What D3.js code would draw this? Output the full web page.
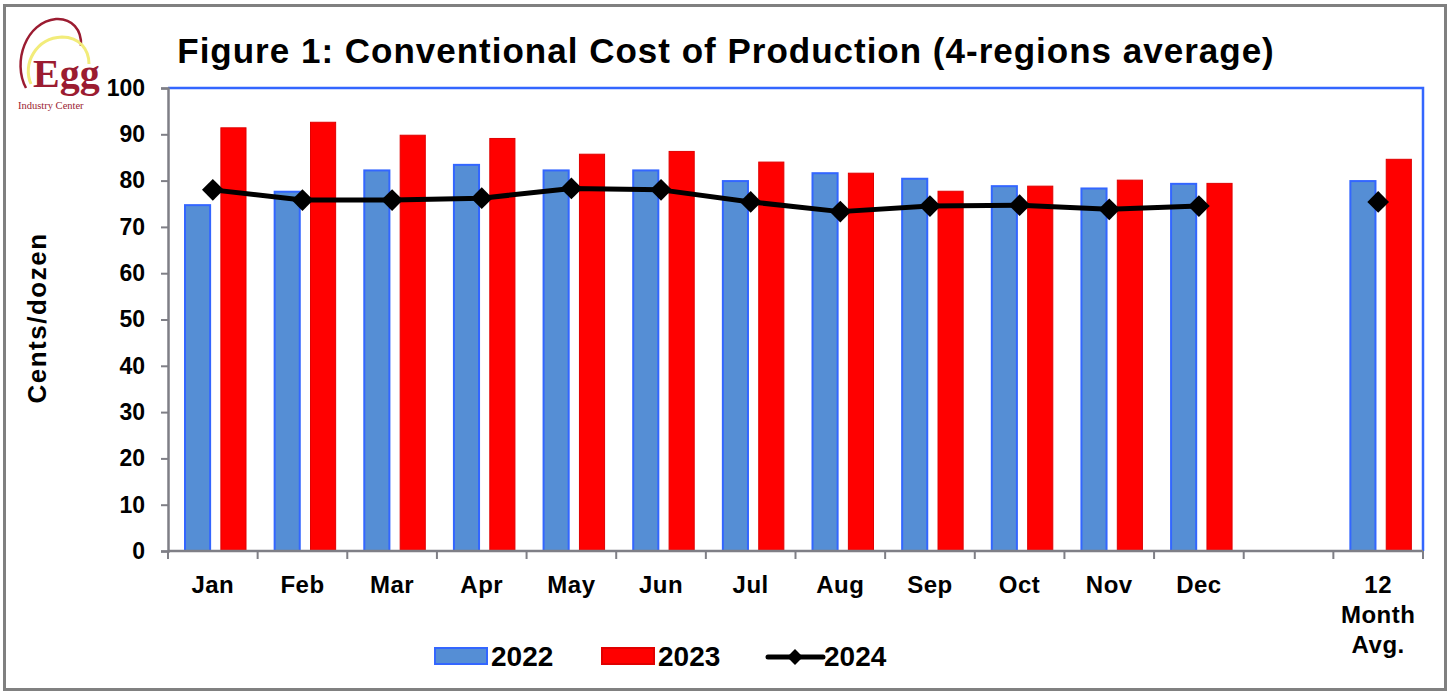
<!DOCTYPE html>
<html>
<head>
<meta charset="utf-8">
<script src="https://cdn.jsdelivr.net/npm/d3@7"></script>
<style>
  body { margin: 0; background: #fff; }
  svg { display: block; font-family: 'Liberation Sans', Arial, sans-serif; }
  .tick-label { font-weight: bold; fill: #000; }
</style>
</head>
<body>
<svg id="chart" width="1449" height="693"></svg>
<script>
// categories: 12 months, one empty slot, then the 12 month average
const categories = ['Jan', 'Feb', 'Mar', 'Apr', 'May', 'Jun', 'Jul', 'Aug', 'Sep', 'Oct', 'Nov', 'Dec', '', '12 Month Avg.'];
const values2022 = [74.7, 77.6, 82.2, 83.4, 82.2, 82.2, 79.9, 81.6, 80.4, 78.8, 78.3, 79.3, null, 79.9];
const values2023 = [91.4, 92.6, 89.8, 89.1, 85.7, 86.3, 84.0, 81.6, 77.7, 78.8, 80.1, 79.4, null, 84.6];
const values2024 = [78.0, 75.8, 75.8, 76.2, 78.3, 78.0, 75.4, 73.3, 74.5, 74.7, 73.8, 74.5, null, 75.4];
const yTicks = [0, 10, 20, 30, 40, 50, 60, 70, 80, 90, 100];
const barSeries = ['2022', '2023'];

const svg = d3.select('#chart');

const margin = { top: 88, right: 26, bottom: 142, left: 168 };
const width = 1449;
const height = 693;
const innerWidth = width - margin.left - margin.right;
const innerHeight = height - margin.top - margin.bottom;

// outer frame
svg.append('rect')
  .attr('x', 4.5).attr('y', 5.5)
  .attr('width', 1441).attr('height', 684)
  .attr('fill', '#fff')
  .attr('stroke', '#808080')
  .attr('stroke-width', 3);

// logo
const logo = svg.append('g').attr('class', 'logo');
logo.append('path')
  .attr('d', 'M26,88 C12,62 26,22 56,19 C72,18 82,30 81,46')
  .attr('fill', 'none').attr('stroke', '#9b1c31').attr('stroke-width', 2.5);
logo.append('path')
  .attr('d', 'M31,84 C22,64 36,38 62,37 C80,37 89,50 89,64')
  .attr('fill', 'none').attr('stroke', '#f2ec7a').attr('stroke-width', 3);
logo.append('text')
  .attr('x', 33).attr('y', 87)
  .attr('font-family', "'Liberation Serif', 'DejaVu Serif', serif")
  .attr('font-size', 40)
  .attr('font-weight', 'bold')
  .attr('fill', '#9b1c31')
  .text('Egg');
logo.append('text')
  .attr('x', 18).attr('y', 109)
  .attr('font-family', "'Liberation Serif', 'DejaVu Serif', serif")
  .attr('font-size', 10.5)
  .attr('fill', '#9b1c31')
  .text('Industry Center');

// title
svg.append('text')
  .attr('x', 726).attr('y', 63)
  .attr('text-anchor', 'middle')
  .attr('font-size', 35)
  .attr('letter-spacing', 1)
  .attr('font-weight', 'bold')
  .text('Figure 1: Conventional Cost of Production (4-regions average)');

const xScale = d3.scaleBand().domain(d3.range(categories.length)).range([0, innerWidth]).padding(0);
const xSeries = d3.scaleBand().domain(barSeries).range([17, 78]).paddingInner(0.3);
const yScale = d3.scaleLinear().domain([0, 100]).range([innerHeight, 0]);

const grp = svg.append('g')
  .attr('transform', 'translate(' + margin.left + ',' + margin.top + ')');

// plot border (top and right in blue)
grp.append('path')
  .attr('d', 'M0,0 H' + innerWidth + ' V' + innerHeight)
  .attr('fill', 'none')
  .attr('stroke', '#3366ff')
  .attr('stroke-width', 2.5);

// bars
const barData = [];
categories.forEach((c, i) => {
  if (values2022[i] != null) barData.push({ i: i, s: '2022', v: values2022[i] });
  if (values2023[i] != null) barData.push({ i: i, s: '2023', v: values2023[i] });
});

grp.selectAll('.bar')
  .data(barData)
  .enter()
  .append('rect')
  .attr('class', 'bar')
  .attr('x', (d) => xScale(d.i) + xSeries(d.s))
  .attr('y', (d) => yScale(d.v))
  .attr('width', xSeries.bandwidth())
  .attr('height', (d) => innerHeight - yScale(d.v))
  .attr('fill', (d) => d.s === '2022' ? '#558ed5' : '#ff0000')
  .attr('stroke', (d) => d.s === '2022' ? '#3366ff' : '#e00000')
  .attr('stroke-width', (d) => d.s === '2022' ? 2 : 1);

// y axis
const yAxis = grp.append('g')
  .attr('class', 'y axis')
  .call(d3.axisLeft(yScale).tickValues(yTicks).tickSize(7).tickPadding(16).tickFormat(d3.format('d')));
yAxis.select('.domain').attr('stroke', '#7f7f86').attr('stroke-width', 2.5);
yAxis.selectAll('.tick line').attr('stroke', '#7f7f86').attr('stroke-width', 2);
yAxis.selectAll('.tick text')
  .attr('class', 'tick-label')
  .attr('font-size', 23)
  .attr('font-family', "'Liberation Sans', Arial, sans-serif");

// x axis, ticks on band edges
const xAxis = grp.append('g')
  .attr('transform', 'translate(0,' + innerHeight + ')');
xAxis.append('line')
  .attr('x1', 0).attr('x2', innerWidth)
  .attr('stroke', '#7f7f86').attr('stroke-width', 2.5);
xAxis.selectAll('.xtick')
  .data(d3.range(categories.length + 1))
  .enter()
  .append('line')
  .attr('class', 'xtick')
  .attr('x1', (d) => d * xScale.step()).attr('x2', (d) => d * xScale.step())
  .attr('y1', 0).attr('y2', 8)
  .attr('stroke', '#7f7f86').attr('stroke-width', 2);

const xLabels = xAxis.selectAll('.xlabel')
  .data(categories)
  .enter()
  .append('text')
  .attr('class', 'tick-label')
  .attr('text-anchor', 'middle')
  .attr('font-size', 24)
  .attr('letter-spacing', 0.5)
  .attr('x', (d, i) => xScale(i) + xScale.bandwidth() / 2)
  .attr('y', 42);
xLabels.each(function (d) {
  const lines = d === '12 Month Avg.' ? ['12', 'Month', 'Avg.'] : [d];
  d3.select(this).selectAll('tspan')
    .data(lines)
    .enter()
    .append('tspan')
    .attr('x', d3.select(this).attr('x'))
    .attr('dy', (l, j) => j === 0 ? 0 : 30)
    .text((l) => l);
});

// y axis title
svg.append('text')
  .attr('transform', 'translate(46,318) rotate(-90)')
  .attr('text-anchor', 'middle')
  .attr('font-size', 26)
  .attr('letter-spacing', 1.5)
  .attr('font-weight', 'bold')
  .text('Cents/dozen');

// 2024 line with diamond markers
const line = d3.line()
  .defined((d) => d != null)
  .x((d, i) => xScale(i) + xScale.bandwidth() / 2)
  .y((d) => yScale(d));

grp.append('path')
  .datum(values2024.slice(0, 12))
  .attr('fill', 'none')
  .attr('stroke', '#000')
  .attr('stroke-width', 5)
  .attr('stroke-linejoin', 'round')
  .attr('d', line);

const diamond = d3.symbol().type(d3.symbolDiamond2).size(300);
grp.selectAll('.marker')
  .data(values2024.map((v, i) => ({ v: v, i: i })).filter((d) => d.v != null))
  .enter()
  .append('path')
  .attr('class', 'marker')
  .attr('transform', (d) => 'translate(' + (xScale(d.i) + xScale.bandwidth() / 2) + ',' + yScale(d.v) + ')')
  .attr('d', diamond)
  .attr('fill', '#000');

// legend
const legend = svg.append('g').attr('class', 'legend');
const legendItems = [
  { key: '2022', x: 435, type: 'bar', fill: '#558ed5', stroke: '#3366ff' },
  { key: '2023', x: 602, type: 'bar', fill: '#ff0000', stroke: '#e00000' },
  { key: '2024', x: 768, type: 'line' },
];
legendItems.forEach((it) => {
  if (it.type === 'bar') {
    legend.append('rect')
      .attr('x', it.x).attr('y', 648)
      .attr('width', 52).attr('height', 16)
      .attr('fill', it.fill).attr('stroke', it.stroke).attr('stroke-width', 2);
  } else {
    legend.append('line')
      .attr('x1', it.x).attr('x2', it.x + 55)
      .attr('y1', 657).attr('y2', 657)
      .attr('stroke', '#000').attr('stroke-width', 5).attr('stroke-linecap', 'round');
    legend.append('path')
      .attr('transform', 'translate(' + (it.x + 27) + ',657)')
      .attr('d', d3.symbol().type(d3.symbolDiamond2).size(160))
      .attr('fill', '#000');
  }
  legend.append('text')
    .attr('x', it.x + 56).attr('y', 666)
    .attr('font-size', 28)
    .attr('font-weight', 'bold')
    .text(it.key);
});
</script>
</body>
</html>
